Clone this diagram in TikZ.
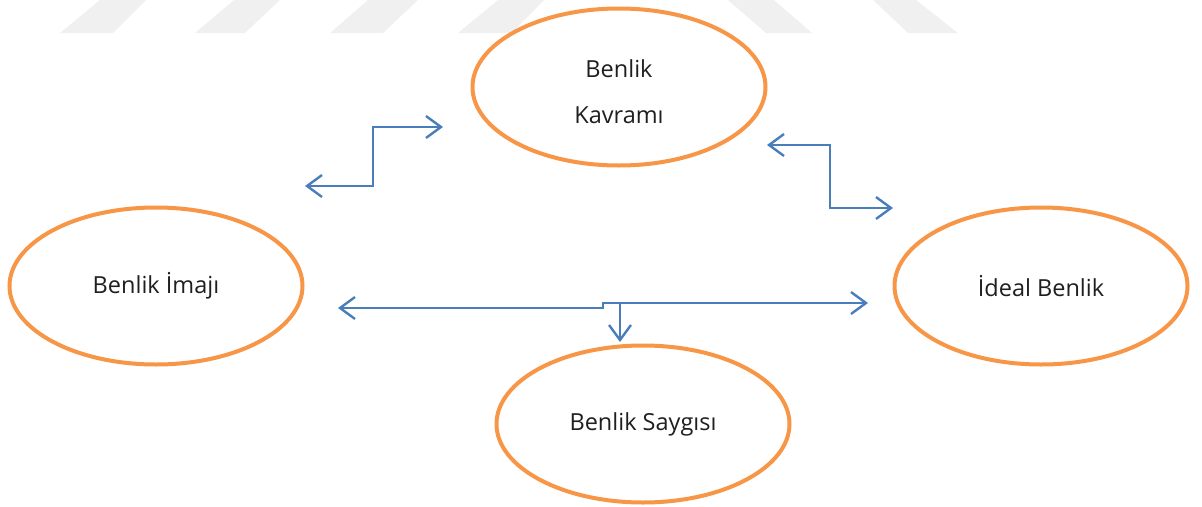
\documentclass[tikz,border=0pt]{standalone}
\usepackage{fontspec}
\setmainfont{Open Sans}
\usetikzlibrary{shapes.geometric,arrows.meta}
\definecolor{ringorange}{HTML}{F79646}
\definecolor{linkblue}{HTML}{4A7EBB}
\definecolor{markgray}{HTML}{F0F0F0}
\begin{document}
\begin{tikzpicture}[x=1pt,y=-1pt,
  label text/.style={font=\fontsize{23.5}{46}\selectfont, align=center, text=black!88},
  concept/.style={ellipse, draw=ringorange, line width=4pt, fill=white,
    minimum width=293pt, minimum height=157pt, inner sep=0pt, label text},
  link/.style={draw=linkblue, line width=2.4pt, line join=miter},
  barb/.tip={Straight Barb[length=15pt,width=22pt]},
  twoway/.style={barb-barb},
  oneway/.style={-barb},
  stripe/.style={fill=markgray, draw=none}]
\useasboundingbox (0,0) rectangle (1202,506);

% light stripes along the top edge
\fill[stripe] (60,33) -- (113,33) -- (146,0) -- (100,0) -- cycle;
\fill[stripe] (195,33) -- (245,33) -- (280,0) -- (234,0) -- cycle;
\fill[stripe] (330,33) -- (383,33) -- (418,0) -- (368,0) -- cycle;
\fill[stripe] (458,33) -- (512,33) -- (544,0) -- (498,0) -- cycle;
\fill[stripe] (766,33) -- (812,33) -- (774,0) -- (728,0) -- cycle;
\fill[stripe] (908,33) -- (958,33) -- (916,0) -- (873,0) -- cycle;

% the four concepts
\node[concept] (kavram) at (619,87) {};
\node[label text] (kavramtext) at (619,92) {Benlik\\Kavramı};
\node[concept] (imaj)   at (156,286) {Benlik İmajı};
\node[concept] (ideal)  at (1041,286) {İdeal Benlik};
\node[concept] (sayg)   at (643,424) {Benlik Saygısı};

% free ends of the connectors
\coordinate (tlA) at (305,186);
\coordinate (tlB) at (443,127);
\coordinate (trA) at (767,145);
\coordinate (trB) at (893,208);
\coordinate (bL) at (338,308);
\coordinate (bR) at (868,303);
\coordinate (bJoin) at (620,303);
\coordinate (bDown) at (620,342);

% connectors
\draw[link, twoway] (tlA) -- ++(68,0) |- (tlB);
\draw[link, twoway] (trA) -- ++(63,0) |- (trB);
\draw[link, twoway] (bL) -- (603,308) -- (603,303) -- (bR);
\draw[link, oneway] (bJoin) -- (bDown);
\end{tikzpicture}
\end{document}
